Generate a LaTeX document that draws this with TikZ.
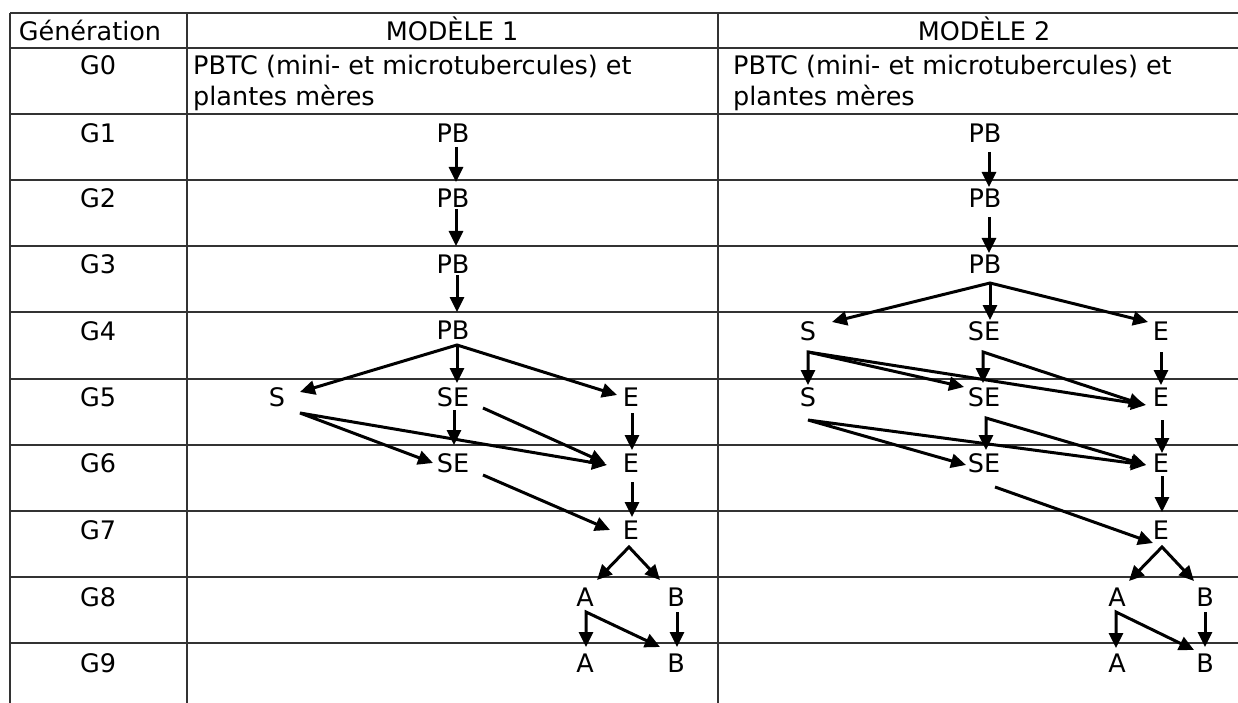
\documentclass[tikz,border=0pt]{standalone}
\usepackage{fontspec}
\setmainfont{DejaVu Sans}
\usetikzlibrary{arrows.meta}
\begin{document}
\begin{tikzpicture}[x=1pt,y=-1pt,
  txt/.style={font=\fontsize{25.5}{31}\selectfont, inner sep=0pt},
  gridline/.style={line width=1.4pt, draw=black!80},
  arr/.style={line width=3pt, -{Triangle[length=15pt,width=14pt]}},
  darr/.style={line width=3pt, {Triangle[length=15pt,width=14pt]}-{Triangle[length=15pt,width=14pt]}},
  hd/.style={txt, anchor=base},
  lbl/.style={txt, anchor=center},
  cell/.style={txt, anchor=base west}]
\useasboundingbox (0,0) rectangle (1238,703);
% table grid
\foreach \yy in {13,48,114,180,246,312,379,445,511,577,643}
  \draw[gridline] (10,\yy) -- (1238,\yy);
\foreach \xx in {10,187,718}
  \draw[gridline] (\xx,13) -- (\xx,703);
% header
\node[hd] (hgen) at (90,41) {Génération};
\node[hd] (hm1) at (452,41) {MODÈLE 1};
\node[hd] (hm2) at (984,41) {MODÈLE 2};
% G0 row
\node[hd] (g0) at (98,75) {G0};
\node[cell] (c1a) at (193,75) {PBTC (mini- et microtubercules) et};
\node[cell] (c1b) at (193,106) {plantes mères};
\node[cell] (c2a) at (733,75) {PBTC (mini- et microtubercules) et};
\node[cell] (c2b) at (733,106) {plantes mères};
% row labels
\foreach \n/\yy in {1/133,2/198,3/264,4/331,5/397,6/463,7/530,8/597,9/663}
  \node[lbl] (g\n) at (98,\yy) {G\n};
% ---------- model 1 nodes
\node[lbl] (a1) at (453,133) {PB};
\node[lbl] (a2) at (453,198) {PB};
\node[lbl] (a3) at (453,264) {PB};
\node[lbl] (a4) at (453,330) {PB};
\node[lbl] (a5s) at (277,397) {S};
\node[lbl] (a5se) at (453,397) {SE};
\node[lbl] (a5e) at (631,397) {E};
\node[lbl] (a6se) at (453,463) {SE};
\node[lbl] (a6e) at (631,463) {E};
\node[lbl] (a7e) at (631,530) {E};
\node[lbl] (a8a) at (585,597) {A};
\node[lbl] (a8b) at (676,597) {B};
\node[lbl] (a9a) at (585,663) {A};
\node[lbl] (a9b) at (676,663) {B};
% ---------- model 1 connectors
\draw[arr] ([shift={(3,14)}]a1.center) -- ([shift={(3,-16)}]a2.center);
\draw[arr] ([shift={(3,11)}]a2.center) -- ([shift={(3,-18)}]a3.center);
\draw[arr] ([shift={(4,11)}]a3.center) -- ([shift={(4,-18)}]a4.center);
\coordinate (f1) at ([shift={(4,15)}]a4.center);
\draw[darr] ([shift={(23,-5)}]a5s.center) -- (f1) -- ([shift={(-14,-2)}]a5e.center);
\draw[arr] (f1) -- ([shift={(4,-14)}]a5se.center);
\coordinate (s1) at ([shift={(23,16)}]a5s.center);
\draw[darr] ([shift={(-20,0)}]a6se.center) -- (s1) -- ([shift={(-24,2)}]a6e.center);
\draw[arr] ([shift={(1,13)}]a5se.center) -- ([shift={(1,-18)}]a6se.center);
\draw[arr] ([shift={(30,11)}]a5se.center) -- ([shift={(-26,0)}]a6e.center);
\draw[arr] ([shift={(1,16)}]a5e.center) -- ([shift={(1,-13)}]a6e.center);
\draw[arr] ([shift={(30,12)}]a6se.center) -- ([shift={(-21,0)}]a7e.center);
\draw[arr] ([shift={(1,19)}]a6e.center) -- ([shift={(1,-13)}]a7e.center);
\coordinate (f2) at ([shift={(-2,17)}]a7e.center);
\draw[darr] ([shift={(12,-17)}]a8a.center) -- (f2) -- ([shift={(-16,-17)}]a8b.center);
\coordinate (k1) at ([shift={(1,15)}]a8a.center);
\draw[darr] ([shift={(1,-16)}]a9a.center) -- (k1) -- ([shift={(-16,-16)}]a9b.center);
\draw[arr] ([shift={(1,15)}]a8b.center) -- ([shift={(1,-16)}]a9b.center);
% ---------- model 2 nodes
\node[lbl] (b1) at (985,133) {PB};
\node[lbl] (b2) at (985,198) {PB};
\node[lbl] (b3) at (985,264) {PB};
\node[lbl] (b4s) at (808,331) {S};
\node[lbl] (b4se) at (984,331) {SE};
\node[lbl] (b4e) at (1161,331) {E};
\node[lbl] (b5s) at (808,397) {S};
\node[lbl] (b5se) at (984,397) {SE};
\node[lbl] (b5e) at (1161,397) {E};
\node[lbl] (b6se) at (984,463) {SE};
\node[lbl] (b6e) at (1161,463) {E};
\node[lbl] (b7e) at (1161,530) {E};
\node[lbl] (b8a) at (1117,597) {A};
\node[lbl] (b8b) at (1205,597) {B};
\node[lbl] (b9a) at (1117,663) {A};
\node[lbl] (b9b) at (1205,663) {B};
% ---------- model 2 connectors
\draw[arr] ([shift={(4,19)}]b1.center) -- ([shift={(4,-11)}]b2.center);
\draw[arr] ([shift={(4,19)}]b2.center) -- ([shift={(4,-11)}]b3.center);
\coordinate (f3) at ([shift={(5,19)}]b3.center);
\draw[darr] ([shift={(24,-9)}]b4s.center) -- (f3) -- ([shift={(-13,-9)}]b4e.center);
\draw[arr] (f3) -- ([shift={(6,-11)}]b4se.center);
\coordinate (k2) at ([shift={(0,21)}]b4s.center);
\draw[darr] ([shift={(0,-12)}]b5s.center) -- (k2) -- ([shift={(-15,8)}]b5e.center);
\draw[arr] (k2) -- ([shift={(-20,-10)}]b5se.center);
\coordinate (k3) at ([shift={(-1,21)}]b4se.center);
\draw[darr] ([shift={(-1,-14)}]b5se.center) -- (k3) -- ([shift={(-17,8)}]b5e.center);
\draw[arr] ([shift={(0,21)}]b4e.center) -- ([shift={(0,-12)}]b5e.center);
\coordinate (s2) at ([shift={(0,23)}]b5s.center);
\draw[darr] ([shift={(-18,2)}]b6se.center) -- (s2) -- ([shift={(-15,2)}]b6e.center);
\coordinate (k4) at ([shift={(2,21)}]b5se.center);
\draw[darr] ([shift={(2,-13)}]b6se.center) -- (k4) -- ([shift={(-15,2)}]b6e.center);
\draw[arr] ([shift={(1,23)}]b5e.center) -- ([shift={(1,-10)}]b6e.center);
\draw[arr] ([shift={(11,24)}]b6se.center) -- ([shift={(-8,13)}]b7e.center);
\draw[arr] ([shift={(1,13)}]b6e.center) -- ([shift={(1,-18)}]b7e.center);
\coordinate (f4) at ([shift={(1,17)}]b7e.center);
\draw[darr] ([shift={(12,-16)}]b8a.center) -- (f4) -- ([shift={(-11,-16)}]b8b.center);
\coordinate (k5) at ([shift={(-1,15)}]b8a.center);
\draw[darr] ([shift={(-1,-15)}]b9a.center) -- (k5) -- ([shift={(-11,-13)}]b9b.center);
\draw[arr] ([shift={(0,15)}]b8b.center) -- ([shift={(0,-16)}]b9b.center);
\end{tikzpicture}
\end{document}
